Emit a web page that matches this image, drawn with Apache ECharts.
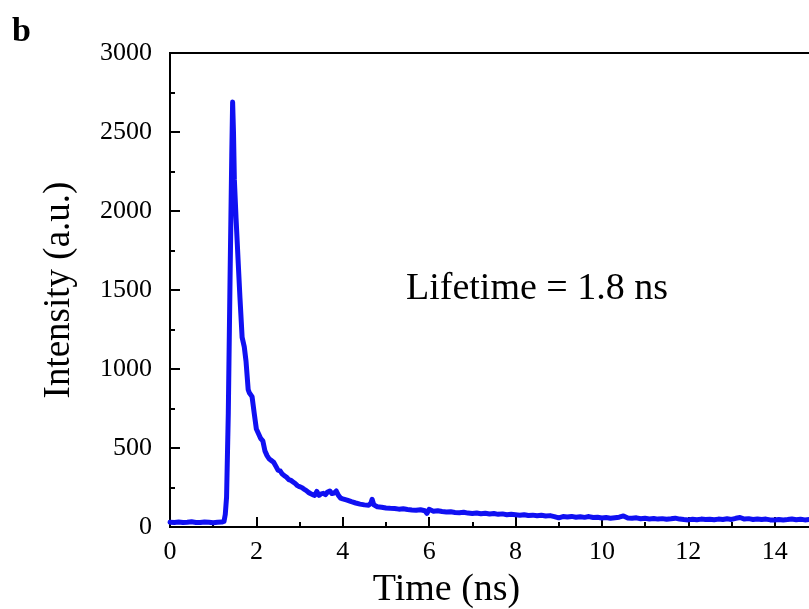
<!DOCTYPE html>
<html>
<head>
<meta charset="utf-8">
<script src="https://cdn.jsdelivr.net/npm/echarts@6/dist/echarts.min.js"></script>
<style>
html,body{margin:0;padding:0;background:#fff;overflow:hidden;}
#chart{width:809px;height:609px;}
</style>
</head>
<body>
<div id="chart"></div>
<script>
// Time (ns)
const timeNs = [
  0.0,0.1,0.2,0.3,0.4,0.5,0.6,0.7,0.8,0.9,1.0,1.1,1.2,1.25,
  1.28,1.31,1.35,1.39,1.43,1.45,1.47,1.49,1.53,1.58,1.62,1.67,1.72,1.76,1.81,1.84,1.9,1.95,
  2.0,2.05,2.1,2.15,2.2,2.25,2.3,2.35,2.4,2.45,2.5,2.55,2.6,2.65,2.7,2.75,2.8,2.85,2.9,2.95,
  3.0,3.05,3.1,3.15,3.2,3.25,3.3,3.35,3.4,3.45,3.5,3.55,3.6,3.65,3.7,3.75,3.8,3.85,3.9,3.95,
  4.0,4.1,4.2,4.3,4.4,4.5,4.6,4.65,4.68,4.72,4.8,4.9,
  5.0,5.1,5.2,5.3,5.4,5.5,5.6,5.7,5.8,5.9,5.95,
  6.0,6.1,6.2,6.3,6.4,6.5,6.6,6.7,6.8,6.9,
  7.0,7.1,7.2,7.3,7.4,7.5,7.6,7.7,7.8,7.9,
  8.0,8.1,8.2,8.3,8.4,8.5,8.6,8.7,8.8,8.9,
  9.0,9.1,9.2,9.3,9.4,9.5,9.6,9.7,9.8,9.9,
  10.0,10.1,10.2,10.3,10.4,10.5,10.6,10.7,10.8,10.9,
  11.0,11.1,11.2,11.3,11.4,11.5,11.6,11.7,11.8,11.9,
  12.0,12.1,12.2,12.3,12.4,12.5,12.6,12.7,12.8,12.9,
  13.0,13.1,13.2,13.3,13.4,13.5,13.6,13.7,13.8,13.9,
  14.0,14.1,14.2,14.3,14.4,14.5,14.6,14.7,14.8,14.9,15.0
];
// Intensity (a.u.)
const intensity = [
  30,29,31,28,30,33,29,28,32,30,27,30,31,35,
  80,190,720,1560,2350,2690,2500,2200,1950,1670,1450,1200,1140,1050,870,848,825,720,
  620,590,560,545,480,450,430,420,410,385,360,355,335,325,315,300,295,285,275,262,
  255,250,240,232,220,212,205,200,225,200,210,213,205,222,228,212,215,228,200,183,
  178,170,160,152,145,140,138,150,175,140,128,125,
  120,118,117,113,115,111,108,106,109,103,86,
  112,100,103,98,95,96,92,90,93,88,
  86,89,84,87,82,85,80,83,78,80,
  77,74,78,73,75,71,74,70,72,66,
  58,66,63,67,62,65,61,66,60,62,
  57,60,56,59,62,70,57,55,58,52,
  55,51,54,50,53,49,52,56,50,47,
  45,49,46,50,47,49,46,50,47,52,
  48,55,60,50,53,48,51,47,50,45,
  44,48,45,47,51,46,49,45,48,46,47
];
const xTicks = { min: 0, max: 16, interval: 2 };
const yTicks = { min: 0, max: 3000, interval: 500 };
const panelLabel = 'b';
const annotation = 'Lifetime = 1.8 ns';

const FONT = '"Liberation Serif", "Times New Roman", serif';
const chart = echarts.init(document.getElementById('chart'), null, { renderer: 'canvas' });
const seriesData = timeNs.map((t, i) => [t, intensity[i]]);

chart.setOption({
  animation: false,
  backgroundColor: '#ffffff',
  grid: {
    left: 170, top: 53, width: 691, height: 474,
    outerBoundsMode: 'none', containLabel: false,
    show: true, borderColor: '#000', borderWidth: 2, backgroundColor: 'transparent'
  },
  xAxis: {
    type: 'value',
    min: xTicks.min, max: xTicks.max, interval: xTicks.interval,
    name: 'Time (ns)', nameLocation: 'middle', nameGap: 44,
    nameTextStyle: { fontFamily: FONT, fontSize: 38, color: '#000', padding: [0, 138, 0, 0] },
    axisLine: { show: true, onZero: false, lineStyle: { color: '#000', width: 2 } },
    axisTick: { show: true, inside: true, length: 10, lineStyle: { color: '#000', width: 2 } },
    minorTick: { show: true, splitNumber: 2, length: 5, lineStyle: { color: '#000', width: 2 } },
    axisLabel: { fontFamily: FONT, fontSize: 26, color: '#000', margin: 12, showMaxLabel: false,
      formatter: v => String(v) },
    splitLine: { show: false }
  },
  yAxis: {
    type: 'value',
    min: yTicks.min, max: yTicks.max, interval: yTicks.interval,
    name: 'Intensity (a.u.)', nameLocation: 'middle', nameGap: 92,
    nameTextStyle: { fontFamily: FONT, fontSize: 37, color: '#000' },
    axisLine: { show: true, lineStyle: { color: '#000', width: 2 } },
    axisTick: { show: true, inside: true, length: 10, lineStyle: { color: '#000', width: 2 } },
    minorTick: { show: true, splitNumber: 2, length: 5, lineStyle: { color: '#000', width: 2 } },
    axisLabel: { fontFamily: FONT, fontSize: 26, color: '#000', margin: 18,
      formatter: v => String(v) },
    splitLine: { show: false }
  },
  series: [{
    type: 'line',
    data: seriesData,
    showSymbol: false,
    symbol: 'none',
    lineStyle: { color: '#1010f2', width: 5, join: 'round', cap: 'round' },
    clip: false
  }],
  graphic: [
    {
      type: 'text', left: 12, top: 15,
      style: { text: panelLabel, font: 'bold 34px ' + FONT, fill: '#000' }
    },
    {
      type: 'text', left: 406, top: 270,
      style: { text: annotation, font: '38px ' + FONT, fill: '#000' }
    }
  ]
});
</script>
</body>
</html>
